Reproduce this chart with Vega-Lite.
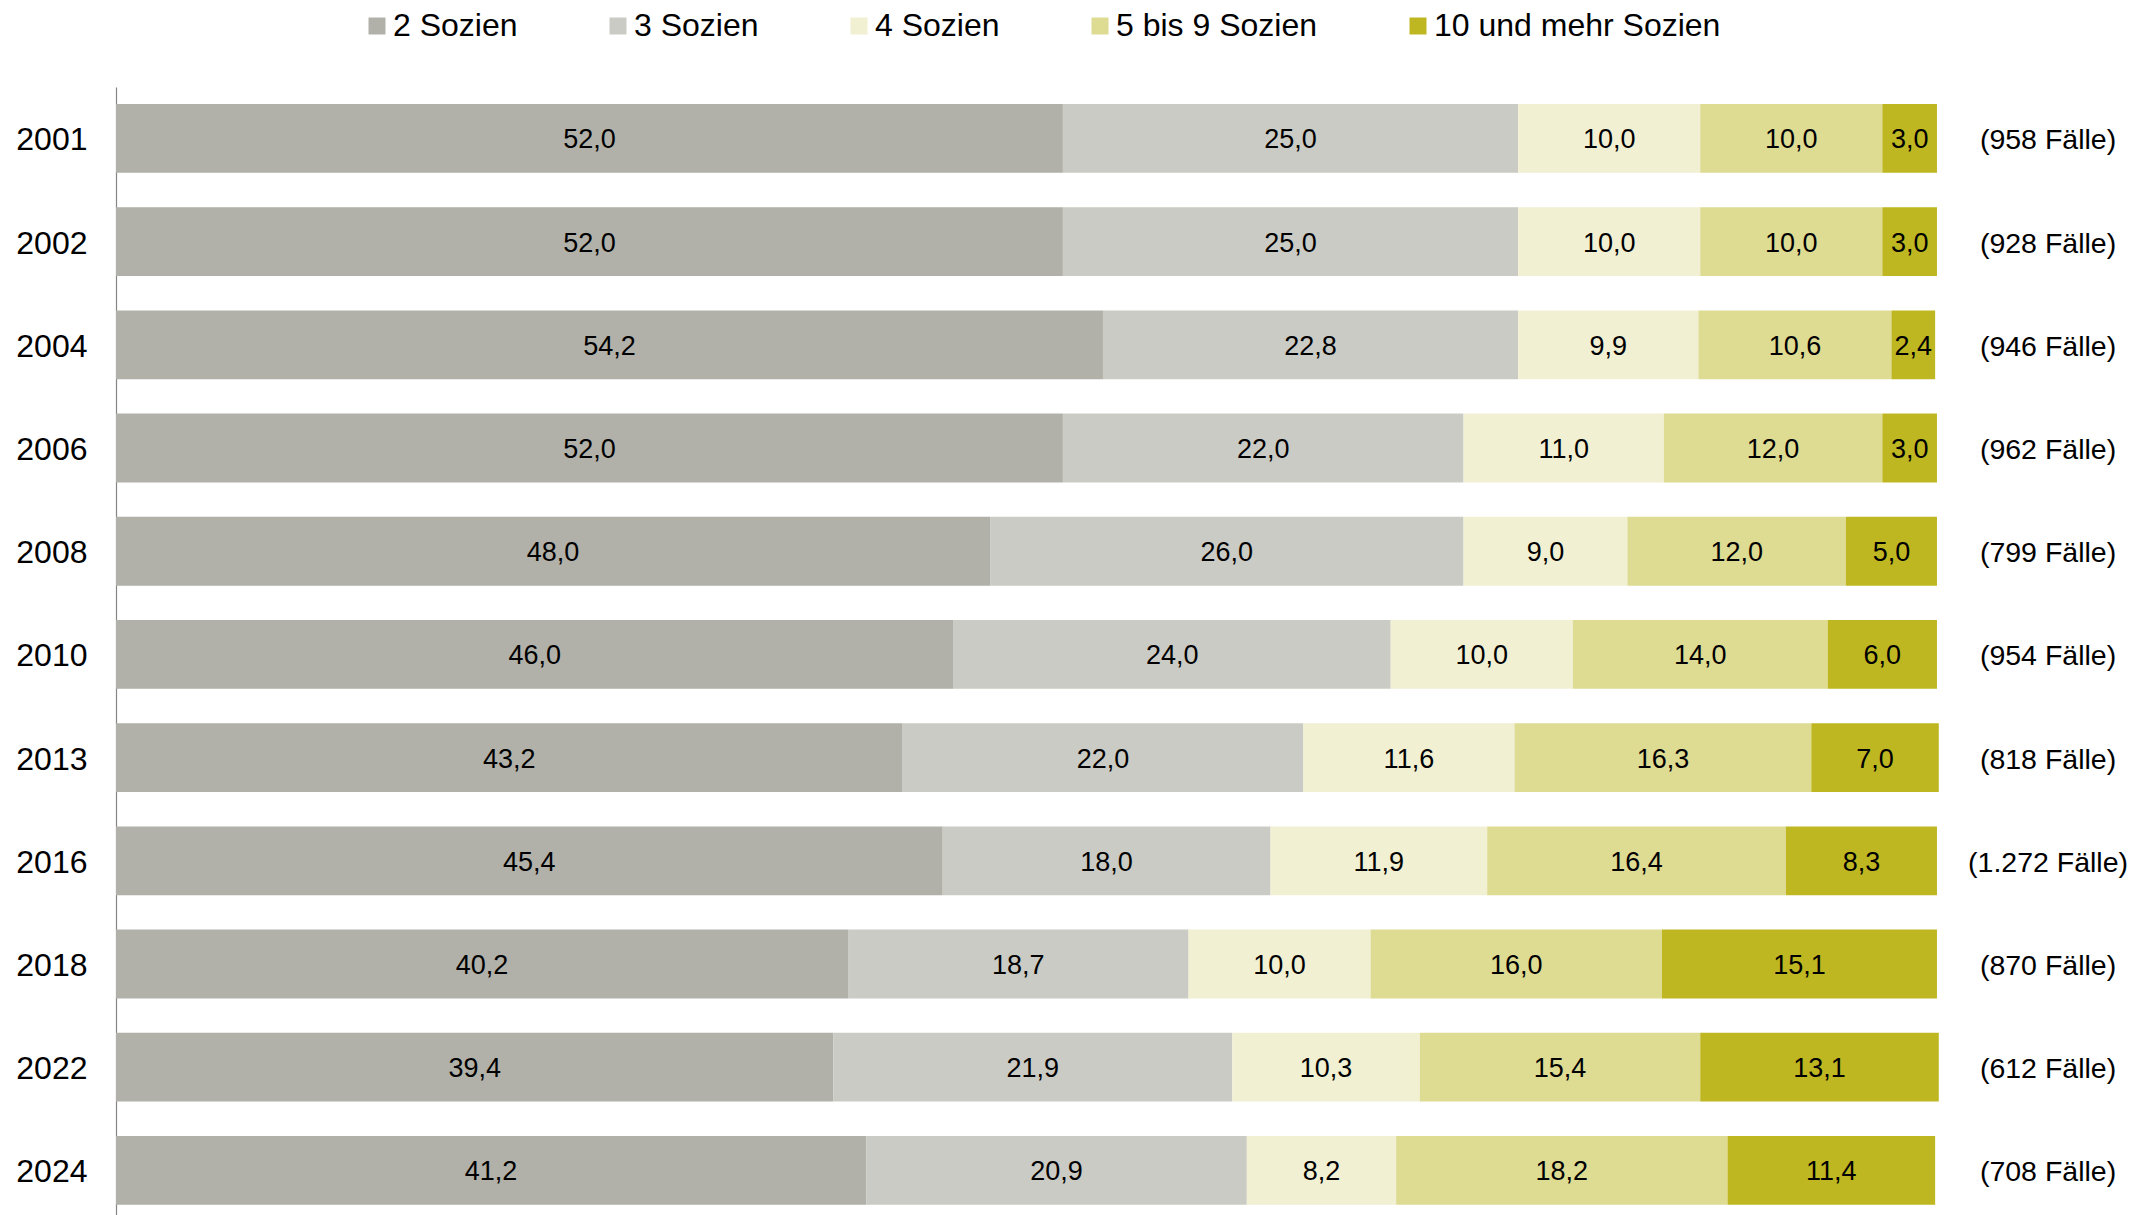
{
  "$schema": "https://vega.github.io/schema/vega-lite/v6.json",
  "width": 2024,
  "height": 1128,
  "autosize": {"type": "none"},
  "padding": {"left": 116, "top": 87, "right": 0, "bottom": 0},
  "config": {
    "font": "Liberation Sans",
    "view": {"stroke": null},
    "locale": {"number": {"decimal": ",", "thousands": ".", "grouping": [3], "currency": ["", " €"]}}
  },
  "datasets": {
    "shares": [
      {"year": "2001", "cat": "2 Sozien", "i": 1, "v": 52.0},
      {"year": "2001", "cat": "3 Sozien", "i": 2, "v": 25.0},
      {"year": "2001", "cat": "4 Sozien", "i": 3, "v": 10.0},
      {"year": "2001", "cat": "5 bis 9 Sozien", "i": 4, "v": 10.0},
      {"year": "2001", "cat": "10 und mehr Sozien", "i": 5, "v": 3.0},
      {"year": "2002", "cat": "2 Sozien", "i": 1, "v": 52.0},
      {"year": "2002", "cat": "3 Sozien", "i": 2, "v": 25.0},
      {"year": "2002", "cat": "4 Sozien", "i": 3, "v": 10.0},
      {"year": "2002", "cat": "5 bis 9 Sozien", "i": 4, "v": 10.0},
      {"year": "2002", "cat": "10 und mehr Sozien", "i": 5, "v": 3.0},
      {"year": "2004", "cat": "2 Sozien", "i": 1, "v": 54.2},
      {"year": "2004", "cat": "3 Sozien", "i": 2, "v": 22.8},
      {"year": "2004", "cat": "4 Sozien", "i": 3, "v": 9.9},
      {"year": "2004", "cat": "5 bis 9 Sozien", "i": 4, "v": 10.6},
      {"year": "2004", "cat": "10 und mehr Sozien", "i": 5, "v": 2.4},
      {"year": "2006", "cat": "2 Sozien", "i": 1, "v": 52.0},
      {"year": "2006", "cat": "3 Sozien", "i": 2, "v": 22.0},
      {"year": "2006", "cat": "4 Sozien", "i": 3, "v": 11.0},
      {"year": "2006", "cat": "5 bis 9 Sozien", "i": 4, "v": 12.0},
      {"year": "2006", "cat": "10 und mehr Sozien", "i": 5, "v": 3.0},
      {"year": "2008", "cat": "2 Sozien", "i": 1, "v": 48.0},
      {"year": "2008", "cat": "3 Sozien", "i": 2, "v": 26.0},
      {"year": "2008", "cat": "4 Sozien", "i": 3, "v": 9.0},
      {"year": "2008", "cat": "5 bis 9 Sozien", "i": 4, "v": 12.0},
      {"year": "2008", "cat": "10 und mehr Sozien", "i": 5, "v": 5.0},
      {"year": "2010", "cat": "2 Sozien", "i": 1, "v": 46.0},
      {"year": "2010", "cat": "3 Sozien", "i": 2, "v": 24.0},
      {"year": "2010", "cat": "4 Sozien", "i": 3, "v": 10.0},
      {"year": "2010", "cat": "5 bis 9 Sozien", "i": 4, "v": 14.0},
      {"year": "2010", "cat": "10 und mehr Sozien", "i": 5, "v": 6.0},
      {"year": "2013", "cat": "2 Sozien", "i": 1, "v": 43.2},
      {"year": "2013", "cat": "3 Sozien", "i": 2, "v": 22.0},
      {"year": "2013", "cat": "4 Sozien", "i": 3, "v": 11.6},
      {"year": "2013", "cat": "5 bis 9 Sozien", "i": 4, "v": 16.3},
      {"year": "2013", "cat": "10 und mehr Sozien", "i": 5, "v": 7.0},
      {"year": "2016", "cat": "2 Sozien", "i": 1, "v": 45.4},
      {"year": "2016", "cat": "3 Sozien", "i": 2, "v": 18.0},
      {"year": "2016", "cat": "4 Sozien", "i": 3, "v": 11.9},
      {"year": "2016", "cat": "5 bis 9 Sozien", "i": 4, "v": 16.4},
      {"year": "2016", "cat": "10 und mehr Sozien", "i": 5, "v": 8.3},
      {"year": "2018", "cat": "2 Sozien", "i": 1, "v": 40.2},
      {"year": "2018", "cat": "3 Sozien", "i": 2, "v": 18.7},
      {"year": "2018", "cat": "4 Sozien", "i": 3, "v": 10.0},
      {"year": "2018", "cat": "5 bis 9 Sozien", "i": 4, "v": 16.0},
      {"year": "2018", "cat": "10 und mehr Sozien", "i": 5, "v": 15.1},
      {"year": "2022", "cat": "2 Sozien", "i": 1, "v": 39.4},
      {"year": "2022", "cat": "3 Sozien", "i": 2, "v": 21.9},
      {"year": "2022", "cat": "4 Sozien", "i": 3, "v": 10.3},
      {"year": "2022", "cat": "5 bis 9 Sozien", "i": 4, "v": 15.4},
      {"year": "2022", "cat": "10 und mehr Sozien", "i": 5, "v": 13.1},
      {"year": "2024", "cat": "2 Sozien", "i": 1, "v": 41.2},
      {"year": "2024", "cat": "3 Sozien", "i": 2, "v": 20.9},
      {"year": "2024", "cat": "4 Sozien", "i": 3, "v": 8.2},
      {"year": "2024", "cat": "5 bis 9 Sozien", "i": 4, "v": 18.2},
      {"year": "2024", "cat": "10 und mehr Sozien", "i": 5, "v": 11.4}
    ],
    "cases": [
      {"year": "2001", "n": 958},
      {"year": "2002", "n": 928},
      {"year": "2004", "n": 946},
      {"year": "2006", "n": 962},
      {"year": "2008", "n": 799},
      {"year": "2010", "n": 954},
      {"year": "2013", "n": 818},
      {"year": "2016", "n": 1272},
      {"year": "2018", "n": 870},
      {"year": "2022", "n": 612},
      {"year": "2024", "n": 708}
    ]
  },
  "encoding": {
    "y": {
      "field": "year",
      "type": "nominal",
      "sort": "ascending",
      "scale": {"paddingInner": 0.333, "paddingOuter": 0.132, "align": 0.625},
      "axis": {
        "title": null,
        "ticks": false,
        "domain": true,
        "domainColor": "#858585",
        "domainWidth": 1.2,
        "labelFontSize": 32,
        "labelColor": "#000000",
        "labelPadding": 29,
        "labelOffset": 2,
        "labelFont": "Liberation Sans"
      }
    }
  },
  "layer": [
    {
      "data": {"name": "shares"},
      "transform": [
        {"stack": "v", "groupby": ["year"], "sort": [{"field": "i", "order": "ascending"}], "as": ["x0", "x1"]},
        {"calculate": "(datum.x0 + datum.x1) / 2", "as": "xm"}
      ],
      "layer": [
        {
          "mark": {"type": "bar", "strokeWidth": 0},
          "encoding": {
            "x": {"field": "x0", "type": "quantitative", "scale": {"domain": [0, 111.15], "nice": false, "zero": true}, "axis": null},
            "x2": {"field": "x1"},
            "color": {
              "field": "cat",
              "type": "nominal",
              "scale": {
                "domain": ["2 Sozien", "3 Sozien", "4 Sozien", "5 bis 9 Sozien", "10 und mehr Sozien"],
                "range": ["#b1b1a9", "#cbcbc5", "#f1f0d3", "#dedb93", "#bfb721"]
              },
              "legend": {
                "title": null,
                "orient": "none",
                "legendX": 245,
                "legendY": -77,
                "direction": "horizontal",
                "columns": 5,
                "symbolType": "square",
                "symbolSize": 289,
                "symbolStrokeWidth": 0,
                "symbolOpacity": 1,
                "labelFontSize": 32,
                "labelFont": "Liberation Sans",
                "labelColor": "#000000",
                "labelOffset": 0,
                "columnPadding": 84,
                "labelLimit": 0
              }
            }
          }
        },
        {
          "mark": {"type": "text", "fontSize": 27, "color": "#000000", "align": "center", "baseline": "middle", "dy": 2, "font": "Liberation Sans"},
          "encoding": {
            "x": {"field": "xm", "type": "quantitative"},
            "text": {"field": "v", "type": "quantitative", "format": ".1f"}
          }
        }
      ]
    },
    {
      "data": {"name": "cases"},
      "transform": [
        {"calculate": "'(' + format(datum.n, ',') + ' Fälle)'", "as": "label"}
      ],
      "mark": {"type": "text", "fontSize": 28.5, "color": "#000000", "align": "center", "baseline": "middle", "dy": 2, "font": "Liberation Sans"},
      "encoding": {
        "x": {"datum": 106.1, "type": "quantitative"},
        "text": {"field": "label", "type": "nominal"}
      }
    }
  ]
}
